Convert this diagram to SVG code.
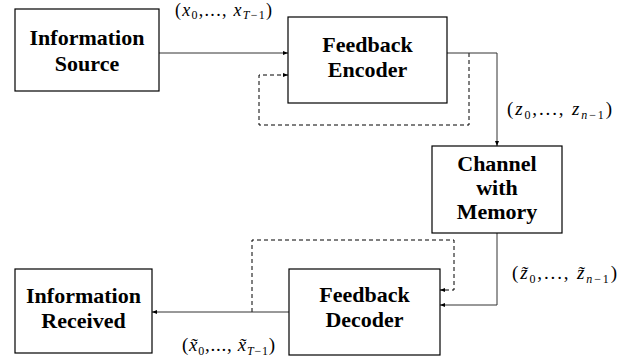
<svg xmlns="http://www.w3.org/2000/svg" width="631" height="362" viewBox="0 0 631 362">
<defs>
<marker id="ah" markerWidth="6" markerHeight="6" refX="5" refY="3" orient="auto" markerUnits="userSpaceOnUse">
<path d="M0,1 L5,3 L0,5 Z" fill="#000"/>
</marker>
<style>
.box{fill:#fff;stroke:#000;stroke-width:1.2}
.ln{fill:none;stroke:#333;stroke-width:1}
.dash{fill:none;stroke:#000;stroke-width:1;stroke-dasharray:4,3}
</style>
</defs>
<rect width="631" height="362" fill="#fff"/>
<g id="connectors">
<path class="ln" d="M159,53 H288" marker-end="url(#ah)"/>
<path class="dash" d="M469,53 V125 H259 V75 H288" marker-end="url(#ah)"/>
<path class="ln" d="M447,53 H497 V146" marker-end="url(#ah)"/>
<path class="ln" d="M497,233 V305 H440" marker-end="url(#ah)"/>
<path class="dash" d="M252,312 V240 H454 V290 H440" marker-end="url(#ah)"/>
<path class="ln" d="M289,312 H152" marker-end="url(#ah)"/>
</g>
<g id="source">
<rect class="box" x="15" y="9" width="144" height="82"/>
<text font-family="Liberation Serif" font-weight="bold" font-size="22" text-anchor="middle" x="87" y="45">Information</text>
<text font-family="Liberation Serif" font-weight="bold" font-size="22" text-anchor="middle" x="87" y="71">Source</text>
</g>
<g id="encoder">
<rect class="box" x="288" y="17" width="159" height="86"/>
<text font-family="Liberation Serif" font-weight="bold" font-size="22" text-anchor="middle" x="367.5" y="52">Feedback</text>
<text font-family="Liberation Serif" font-weight="bold" font-size="22" text-anchor="middle" x="367.5" y="77">Encoder</text>
</g>
<g id="channel">
<rect class="box" x="432" y="146" width="130" height="87"/>
<text font-family="Liberation Serif" font-weight="bold" font-size="22" text-anchor="middle" x="497" y="171">Channel</text>
<text font-family="Liberation Serif" font-weight="bold" font-size="22" text-anchor="middle" x="497" y="195">with</text>
<text font-family="Liberation Serif" font-weight="bold" font-size="22" text-anchor="middle" x="497" y="219">Memory</text>
</g>
<g id="decoder">
<rect class="box" x="289" y="269" width="151" height="86"/>
<text font-family="Liberation Serif" font-weight="bold" font-size="22" text-anchor="middle" x="364.5" y="302">Feedback</text>
<text font-family="Liberation Serif" font-weight="bold" font-size="22" text-anchor="middle" x="364.5" y="327">Decoder</text>
</g>
<g id="received">
<rect class="box" x="15" y="269" width="137" height="84"/>
<text font-family="Liberation Serif" font-weight="bold" font-size="22" text-anchor="middle" x="83.5" y="303">Information</text>
<text font-family="Liberation Serif" font-weight="bold" font-size="22" text-anchor="middle" x="83.5" y="328">Received</text>
</g>
<g id="labels">
<text font-family="Liberation Serif" font-size="18" x="175" y="16" textLength="97" lengthAdjust="spacing">(<tspan font-style="italic">x</tspan><tspan font-size="12" dy="3">0</tspan><tspan dy="-3">,..., </tspan><tspan font-style="italic">x</tspan><tspan font-size="12" font-style="italic" dy="3">T</tspan><tspan font-size="12">−1</tspan><tspan dy="-3">)</tspan></text>
<text font-family="Liberation Serif" font-size="19" x="507" y="115" textLength="105" lengthAdjust="spacing">(<tspan font-style="italic">z</tspan><tspan font-size="12" dy="4">0</tspan><tspan dy="-4">,..., </tspan><tspan font-style="italic">z</tspan><tspan font-size="12" font-style="italic" dy="4">n</tspan><tspan font-size="12">−1</tspan><tspan dy="-4">)</tspan></text>
<text font-family="Liberation Serif" font-size="19" x="512" y="279" textLength="105" lengthAdjust="spacing">(<tspan font-style="italic">z̃</tspan><tspan font-size="12" dy="4">0</tspan><tspan dy="-4">,..., </tspan><tspan font-style="italic">z̃</tspan><tspan font-size="12" font-style="italic" dy="4">n</tspan><tspan font-size="12">−1</tspan><tspan dy="-4">)</tspan></text>
<text font-family="Liberation Serif" font-size="19" x="182" y="351" textLength="93" lengthAdjust="spacing">(<tspan font-style="italic">x̃</tspan><tspan font-size="12" dy="4">0</tspan><tspan dy="-4">,..., </tspan><tspan font-style="italic">x̃</tspan><tspan font-size="12" font-style="italic" dy="4">T</tspan><tspan font-size="12">−1</tspan><tspan dy="-4">)</tspan></text>
</g>
</svg>
